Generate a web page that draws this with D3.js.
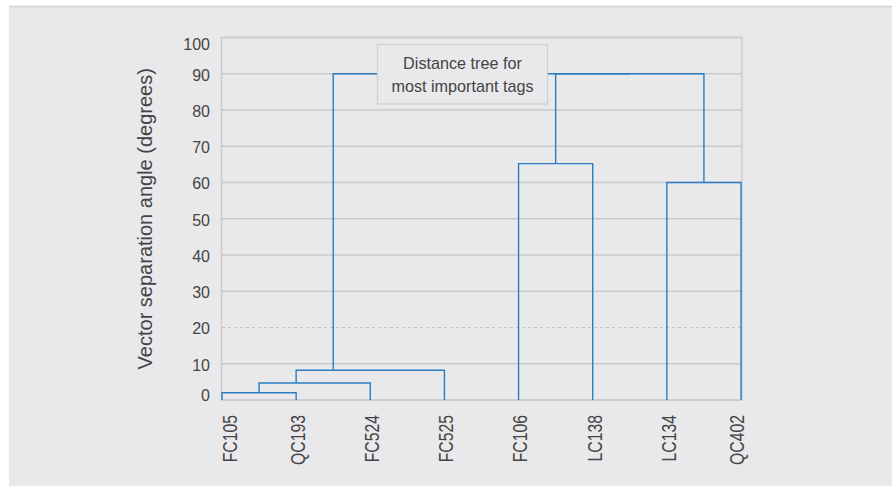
<!DOCTYPE html>
<html>
<head>
<meta charset="utf-8">
<script src="https://cdn.jsdelivr.net/npm/d3@7"></script>
<style>
  html, body { margin: 0; padding: 0; background: #ffffff; }
  svg { display: block; font-family: "Liberation Sans", Arial, Helvetica, sans-serif; }
</style>
</head>
<body>
<svg id="chart" width="892" height="486"></svg>
<script>
// Leaf tags in dendrogram order
const leaves = ["FC105", "QC193", "FC524", "FC525", "FC106", "LC138", "LC134", "QC402"];

// Merge steps: [left child, right child, height (degrees)].
// Children are leaf names or indices into this array as "#i".
const merges = [
  ["FC105", "QC193", 2.0],
  ["#0", "FC524", 4.7],
  ["#1", "FC525", 8.2],
  ["FC106", "LC138", 65.2],
  ["LC134", "QC402", 60.0],
  ["#3", "#4", 90.0],
  ["#2", "#5", 90.0]
];

const yTicks = [0, 10, 20, 30, 40, 50, 60, 70, 80, 90, 100];
const dashedTicks = [20];

const titleLines = ["Distance tree for", "most important tags"];
const yTitle = "Vector separation angle (degrees)";

const svg = d3.select("#chart");
const W = 892, H = 486;
const plot = { left: 222, right: 742, top: 37.5, bottom: 400 };

// Page panel
svg.append("rect").attr("x", 9).attr("y", 6).attr("width", W - 9).attr("height", H - 6).attr("fill", "#e9e9eb");
svg.append("line").attr("x1", 9).attr("x2", W).attr("y1", 6.5).attr("y2", 6.5).attr("stroke", "#d2d2d4").attr("stroke-width", 1.5);

const x = d3.scalePoint().domain(leaves).range([plot.left, plot.right - 1]).padding(0);
const y = d3.scaleLinear().domain([0, 100]).range([plot.bottom, plot.top]);

// Grid lines
const g = svg.append("g");
g.selectAll("line.grid").data(yTicks).join("line")
  .attr("class", "grid")
  .attr("x1", plot.left).attr("x2", plot.right)
  .attr("y1", d => y(d)).attr("y2", d => y(d))
  .attr("stroke", d => dashedTicks.includes(d) ? "#c4c4c6" : "#c9c9cb")
  .attr("stroke-width", d => dashedTicks.includes(d) ? 1 : 1.5)
  .attr("stroke-dasharray", d => dashedTicks.includes(d) ? "3,3" : null);

// Plot frame
g.append("rect")
  .attr("x", plot.left - 0.5).attr("y", plot.top)
  .attr("width", plot.right - plot.left + 0.5).attr("height", plot.bottom - plot.top)
  .attr("fill", "none").attr("stroke", "#c9c9cb").attr("stroke-width", 1.3);

// Y axis labels (end labels nudged inside the axis span)
const yNudge = v => v === 100 ? 6.5 : v === 0 ? -5 : 1.2;
const yAxis = d3.axisLeft(y).tickValues(yTicks).tickSize(0).tickPadding(12);
const ya = svg.append("g").attr("transform", `translate(${plot.left},0)`).call(yAxis);
ya.select(".domain").remove();
ya.selectAll("text").attr("fill", "#444").style("font-size", "16px")
  .style("font-family", "Liberation Sans, Arial, sans-serif")
  .attr("y", d => yNudge(d));

// X axis labels, rotated and condensed (end labels nudged inward)
const xNudge = l => l === leaves[0] ? 7 : l === leaves[leaves.length - 1] ? -5 : 1;
const sx = 0.77;
const xAxis = d3.axisBottom(x).tickSize(0).tickPadding(0);
const xa = svg.append("g").attr("transform", `translate(0,${plot.bottom})`).call(xAxis);
xa.select(".domain").remove();
xa.selectAll("text")
  .attr("fill", "#444").style("font-size", "20.5px")
  .attr("transform", d => `translate(${xNudge(d)},0) rotate(-90) scale(${sx},1)`)
  .attr("x", -15 / sx).attr("y", 0).attr("dy", "0.36em")
  .attr("text-anchor", "end");

// Y axis title
svg.append("text")
  .attr("transform", `translate(152,${(plot.top + plot.bottom) / 2}) rotate(-90)`)
  .attr("text-anchor", "middle")
  .attr("fill", "#444").style("font-size", "20px")
  .text(yTitle);

// Dendrogram: node positions (x = mean of leaf positions, y = merge height)
const nodes = {};
leaves.forEach(l => { nodes[l] = { leaves: [l], h: 0 }; });
merges.forEach((m, i) => {
  const a = nodes[m[0]], b = nodes[m[1]];
  nodes["#" + i] = { leaves: a.leaves.concat(b.leaves), h: m[2], a, b };
});
const nx = n => d3.mean(n.leaves, l => x(l));

const links = g.append("g").attr("fill", "none").attr("stroke", "#2a7dc2").attr("stroke-width", 1.4);
merges.forEach((m, i) => {
  const n = nodes["#" + i];
  const xa0 = nx(n.a), xb0 = nx(n.b);
  const path = d3.path();
  path.moveTo(xa0, y(n.a.h));
  path.lineTo(xa0, y(n.h));
  path.lineTo(xb0, y(n.h));
  path.lineTo(xb0, y(n.b.h));
  links.append("path").attr("d", path.toString());
});

// Title box
const box = svg.append("g");
box.append("rect")
  .attr("x", 377.5).attr("y", 44.5).attr("width", 170).attr("height", 59.5)
  .attr("fill", "#e9e9eb").attr("stroke", "#cfcfd1").attr("stroke-width", 1.3);
box.selectAll("text").data(titleLines).join("text")
  .attr("x", 462.5).attr("y", (d, i) => 69 + i * 23)
  .attr("text-anchor", "middle")
  .attr("fill", "#444").style("font-size", "16.2px")
  .text(d => d);
</script>
</body>
</html>
